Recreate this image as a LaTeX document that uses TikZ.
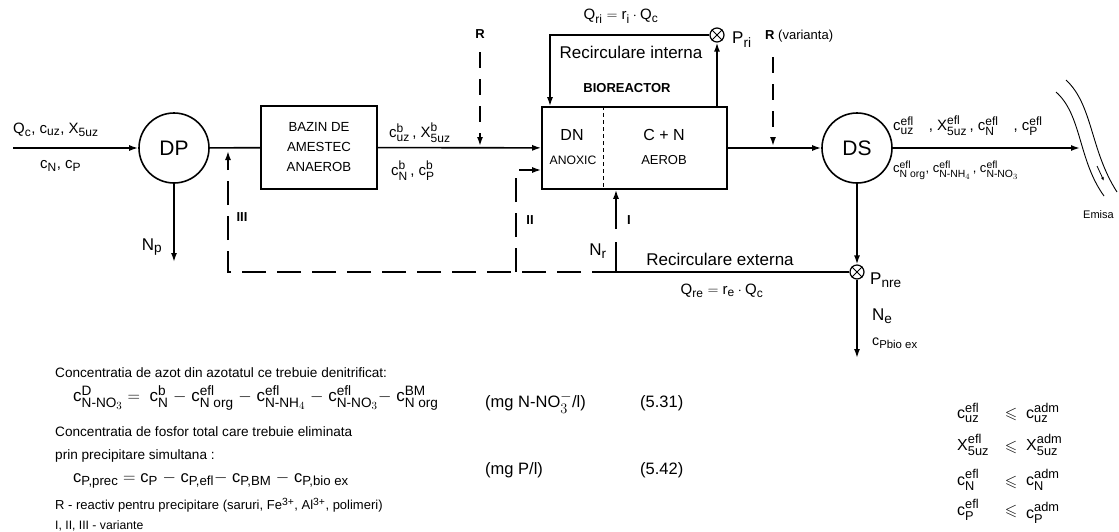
\documentclass[tikz,border=0pt]{standalone}
\usepackage{amsmath,amssymb}
\usepackage{fontspec}
\setmainfont{Liberation Sans}
\usetikzlibrary{arrows.meta}
\renewcommand{\defaultscriptratio}{.8}
\renewcommand{\defaultscriptscriptratio}{.65}
\newcommand\vr[3]{\ensuremath{\text{#1}^{\text{#2}}_{\text{#3}}}}
\newcommand\sbs[2]{\ensuremath{\text{#1}_{\text{#2}}}}
\newcommand\mn{\ensuremath{-}}
\begin{document}
\begin{tikzpicture}[x=1pt,y=-1pt,
  ln/.style={line width=1.6pt},
  arr/.style={line width=1.6pt,-{Latex[length=9pt,width=6pt]}},
  dsh/.style={line width=1.6pt,dash pattern=on 24pt off 11pt},
  dsharr/.style={dsh,-{Latex[length=9pt,width=6pt]}},
  rdsh/.style={line width=1.6pt,dash pattern=on 16pt off 11pt,-{Latex[length=9pt,width=6pt]}},
  circ/.style={circle,draw,line width=1.6pt,minimum size=70pt,inner sep=0pt,font=\fontsize{21}{24}\selectfont},
  blk/.style={draw,line width=1.6pt,inner sep=0pt},
  px/.style={circle,draw,line width=1.2pt,minimum size=14pt,inner sep=0pt,fill=white},
  txt/.style={inner sep=0pt},
  f11/.style={txt,font=\fontsize{11}{13}\selectfont},
  f12/.style={txt,font=\fontsize{12.2}{14}\selectfont},
  f13/.style={txt,font=\fontsize{13}{16}\selectfont},
  fb/.style={txt,font=\fontsize{13.6}{16}\selectfont},
  f14/.style={txt,font=\fontsize{14.2}{17}\selectfont},
  f15/.style={txt,font=\fontsize{15}{18}\selectfont},
  f16/.style={txt,font=\fontsize{16}{19}\selectfont},
  f17/.style={txt,font=\fontsize{17}{20}\selectfont},
  bf/.style={txt,font=\fontsize{13}{16}\selectfont\bfseries}
]
\useasboundingbox[fill=white] (0,0) rectangle (1119,531);

% main nodes
\node[circ] (dp) at (174,148) {DP};
\node[blk,minimum width=116pt,minimum height=83pt,align=center,font=\fontsize{13.2}{20}\selectfont] (baz) at (319,147.5) {BAZIN DE\\AMESTEC\\ANAEROB};
\node[blk,minimum width=185pt,minimum height=82pt] (bio) at (634.5,148) {};
\node[circ] (ds) at (857,148) {DS};
\node[px] (pri) at (717,35) {};
\node[px] (pnre) at (857,272) {};
\draw[line width=0.8pt] (pri.north west) -- (pri.south east) (pri.north east) -- (pri.south west);
\draw[line width=0.8pt] (pnre.north west) -- (pnre.south east) (pnre.north east) -- (pnre.south west);

% bioreactor inside
\draw[line width=0.6pt,dash pattern=on 4pt off 3pt] ([xshift=-31.5pt]bio.north) -- ([xshift=-31.5pt]bio.south);
\node[f16] (dn) at (572,135) {DN};
\node[f12] (anox) at (573,160) {ANOXIC};
\node[f16] (cn) at (664,135) {C + N};
\node[f13] (aer) at (664,160) {AEROB};
\node[bf] (biot) at (627,88) {BIOREACTOR};

% coordinates
\coordinate (in) at (13,148);
\coordinate (out) at (1080,148);
\coordinate (np) at (174,262);
\coordinate (ne) at (857,358);
\coordinate (nr) at (616,272);
\coordinate (i1) at (616,242);
\coordinate (i2) at (616,229);
\coordinate (c3b) at (228,272);
\coordinate (c3t) at (228,151);
\coordinate (c2b) at (516,272);
\coordinate (y170) at (0,170);
\coordinate (r1a) at (480,52);
\coordinate (r1b) at (480,146);
\coordinate (r2a) at (773,57);
\coordinate (r2b) at (773,146);
\coordinate (ril) at (550,35);

% main flow
\draw[arr] (in) -- (dp);
\draw[ln] (dp) -- (baz);
\draw[arr] (baz) -- (bio);
\draw[arr] (bio) -- (ds);
\draw[arr] (ds) -- (out);
\draw[arr] (dp) -- (np);
\draw[arr] (ds) -- (pnre);
\draw[arr] (pnre) -- (ne);

% internal recirculation
\draw[arr] (bio.north -| pri) -- (pri);
\draw[arr] (pri) -- (ril) -- (ril |- bio.north);

% external recirculation
\draw[ln] (pnre) -- (nr) -- (i1);
\draw[arr] (i2) -- (i2 |- bio.south);
\draw[dsharr] (nr) -- (c3b) -- (c3t);
\draw[dsharr] (c2b) |- (bio.west |- y170);

% reagent arrows
\draw[rdsh] (r1a) -- (r1b);
\draw[rdsh] (r2a) -- (r2b);

% river
\draw[line width=0.9pt] (1066,80) .. controls (1093,105) and (1090,150) .. (1117,192);
\draw[line width=0.9pt] (1056,92) .. controls (1082,115) and (1078,160) .. (1104,196);
\draw[line width=0.8pt,-{Latex[length=4pt,width=3pt]}] (1097,166) -- (1104,181);
\node[f11,anchor=west] (emis) at (1083,215) {Emisa};

% labels
\node[f15,anchor=west] (l1) at (13,130) {\sbs{Q}{c}, \sbs{c}{uz}, \sbs{X}{5uz}};
\node[f15,anchor=west] (l2) at (40,166) {\sbs{c}{N}, \sbs{c}{P}};
\node[f17] (lnp) at (152,247) {\sbs{N}{p}};
\node[f15,anchor=west] (l3) at (389,133) {\vr{c}{b}{uz}\,, \vr{X}{b}{5uz}};
\node[f15,anchor=west] (l4) at (391,171) {\vr{c}{b}{N}\,, \vr{c}{b}{P}};
\node[bf] (lr1) at (480,34) {R};
\node[txt,anchor=west,font=\fontsize{13}{16}\selectfont] (lr2) at (765,36) {\textbf{R} (varianta)};
\node[f15] (lqri) at (621,16) {\sbs{Q}{ri}${}={}$\sbs{r}{i}${}\cdot{}$\sbs{Q}{c}};
\node[f17] (lrint) at (631,52) {Recirculare interna};
\node[f17,anchor=west] (lpri) at (732,40) {\sbs{P}{ri}};
\node[bf] (liii) at (242,217) {III};
\node[bf] (lii) at (530,220) {II};
\node[bf] (li) at (629,220) {I};
\node[f17] (lnr) at (598,251) {\sbs{N}{r}};
\node[f17] (lrext) at (720,259) {Recirculare externa};
\node[f15] (lqre) at (722,291) {\sbs{Q}{re}${}={}$\sbs{r}{e}${}\cdot{}$\sbs{Q}{c}};
\node[f17,anchor=west] (lpnre) at (870,280) {\sbs{P}{nre}};
\node[f17,anchor=west] (lne) at (872,316) {\sbs{N}{e}};
\node[f14,anchor=west] (lcpb) at (872,343) {\sbs{c}{Pbio ex}};
\node[f15,anchor=west] (lo1) at (893,126) {\vr{c}{efl}{uz}\quad,\ \vr{X}{efl}{5uz}\,,\ \vr{c}{efl}{N}\quad,\ \vr{c}{efl}{P}};
\node[f13,anchor=west] (lo2) at (893,170) {\vr{c}{efl}{N org}, \vr{c}{efl}{N-NH$_4$}\,, \vr{c}{efl}{N-NO$_3$}};

% bottom text
\node[fb,anchor=west] (t1) at (55,373) {Concentratia de azot din azotatul ce trebuie denitrificat:};
\node[txt,anchor=west,font=\fontsize{17}{20}\selectfont] (t2) at (73,398) {\vr{c}{D}{N-NO$_3$}${}={}$\ \vr{c}{b}{N} \mn\ \vr{c}{efl}{N org} \mn\ \vr{c}{efl}{N-NH$_4$} \mn\ \vr{c}{efl}{N-NO$_3$}\mn\ \vr{c}{BM}{N org}};
\node[txt,anchor=west,font=\fontsize{16.5}{20}\selectfont] (t2u) at (485,403) {(mg N-NO$_3^-$/l)};
\node[txt,anchor=west,font=\fontsize{16.5}{20}\selectfont] (t2n) at (640,403) {(5.31)};
\node[fb,anchor=west] (t3) at (55,432) {Concentratia de fosfor total care trebuie eliminata};
\node[fb,anchor=west] (t4) at (55,456) {prin precipitare simultana :};
\node[txt,anchor=west,font=\fontsize{16.5}{20}\selectfont] (t5) at (73,480) {\sbs{c}{P,prec}${}={}$\sbs{c}{P} \mn\ \sbs{c}{P,efl}\mn\ \sbs{c}{P,BM} \mn\ \sbs{c}{P,bio ex}};
\node[txt,anchor=west,font=\fontsize{16.5}{20}\selectfont] (t5u) at (485,470) {(mg P/l)};
\node[txt,anchor=west,font=\fontsize{16.5}{20}\selectfont] (t5n) at (640,470) {(5.42)};
\node[f13,anchor=west] (t6) at (55,505) {R - reactiv pentru precipitare (saruri, Fe\textsuperscript{3+}, Al\textsuperscript{3+}, polimeri)};
\node[f12,anchor=west] (t7) at (55,526) {I, II, III - variante};

% inequalities
\node[f16,anchor=west] (q1a) at (957,413) {\vr{c}{efl}{uz}};
\node[f16] (q1b) at (1011,414) {$\leqslant$};
\node[f16,anchor=west] (q1c) at (1026,413) {\vr{c}{adm}{uz}};
\node[f16,anchor=west] (q2a) at (957,445) {\vr{X}{efl}{5uz}};
\node[f16] (q2b) at (1011,447) {$\leqslant$};
\node[f16,anchor=west] (q2c) at (1026,445) {\vr{X}{adm}{5uz}};
\node[f16,anchor=west] (q3a) at (957,480) {\vr{c}{efl}{N}};
\node[f16] (q3b) at (1011,482) {$\leqslant$};
\node[f16,anchor=west] (q3c) at (1026,480) {\vr{c}{adm}{N}};
\node[f16,anchor=west] (q4a) at (957,510) {\vr{c}{efl}{P}};
\node[f16] (q4b) at (1011,511) {$\leqslant$};
\node[f16,anchor=west] (q4c) at (1026,513) {\vr{c}{adm}{P}};
\end{tikzpicture}
\end{document}
